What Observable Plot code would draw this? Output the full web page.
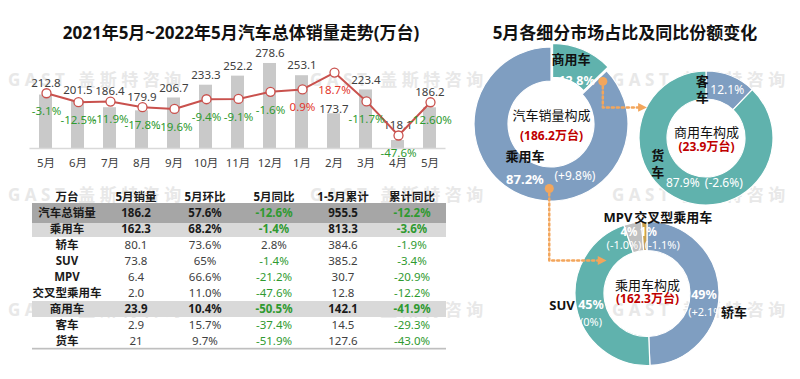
<!DOCTYPE html>
<html>
<head>
<meta charset="utf-8">
<script src="https://cdn.jsdelivr.net/npm/d3@7"></script>
<script src="https://cdn.jsdelivr.net/npm/@observablehq/plot@0.6"></script>
<style>
html,body{margin:0;padding:0;background:#fff;}
#root{position:relative;width:800px;height:379px;overflow:hidden;font-family:"Noto Sans","Noto Sans CJK SC",sans-serif;}
.wm{position:absolute;font-weight:bold;font-size:17px;letter-spacing:4.5px;color:#e8e8e8;white-space:nowrap;line-height:18px;transform:translateY(-50%);}
.title{position:absolute;font-weight:bold;font-size:17px;line-height:17px;color:#111;white-space:nowrap;transform:translate(-50%,-50%);}
</style>
</head>
<body>
<div id="root"></div>
<script>
// ---------------- DATA ----------------
const chartTitle = "2021年5月~2022年5月汽车总体销量走势(万台)";
const donutTitle = "5月各细分市场占比及同比份额变化";
const watermark = "GAST 盖斯特咨询";

const monthLabels = ["5月","6月","7月","8月","9月","10月","11月","12月","1月","2月","3月","4月","5月"];
const sales = [212.8,201.5,186.4,179.9,206.7,233.3,252.2,278.6,253.1,173.7,223.4,118.1,186.2];
const growth = [-3.1,-12.5,-11.9,-17.8,-19.6,-9.4,-9.1,-1.6,0.9,18.7,-11.7,-47.6,-12.6];
const growthLabels = ["-3.1%","-12.5%","-11.9%","-17.8%","-19.6%","-9.4%","-9.1%","-1.6%","0.9%","18.7%","-11.7%","-47.6%","-12.60%"];

const tableHeader = ["万台","5月销量","5月环比","5月同比","1-5月累计","累计同比"];
const rowNames = ["汽车总销量","乘用车","轿车","SUV","MPV","交叉型乘用车","商用车","客车","货车"];
const maySales = ["186.2","162.3","80.1","73.8","6.4","2.0","23.9","2.9","21"];
const mom = ["57.6%","68.2%","73.6%","65%","66.6%","11.0%","10.4%","15.7%","9.7%"];
const yoy = ["-12.6%","-1.4%","2.8%","-1.4%","-21.2%","-47.6%","-50.5%","-37.4%","-51.9%"];
const ytd = ["955.5","813.3","384.6","385.2","30.7","12.8","142.1","14.5","127.6"];
const ytdYoy = ["-12.2%","-3.6%","-1.9%","-3.4%","-20.9%","-12.2%","-41.9%","-29.3%","-43.0%"];
const grandTotalRow = "汽车总销量";
const subtotalRows = ["乘用车","商用车"];

const centerTitles = ["汽车销量构成","商用车构成","乘用车构成"];
const centerTotals = ["(186.2万台)","(23.9万台)","(162.3万台)"];
const mixNames = ["商用车","乘用车"];
const mixValues = [23.9,162.3];
const mixShare = ["12.8%","87.2%"];
const mixChange = ["","(+9.8%)"];
const cvNames = ["客车","货车"];
const cvValues = [2.9,21];
const cvShare = ["12.1%","87.9%"];
const cvChange = ["","(-2.6%)"];
const pvNames = ["轿车","SUV","MPV","交叉型乘用车"];
const pvValues = [80.1,73.8,6.4,2.0];
const pvShare = ["49%","45%","4%","1%"];
const pvChange = ["(+2.1%)","(0%)","(-1.0%)","(-1.1%)"];

// ---------------- STYLE ----------------
const FONT = '"Noto Sans","Noto Sans CJK SC",sans-serif';
const BLUE = "#7f9ec1", TEAL = "#60b2ad", GRAY = "#c0c0c0", GOLD = "#c9a14c";
const ORANGE = "#f3a65c", LINE_RED = "#c9514d", GREEN = "#2f9a30", POS_RED = "#e3362c", DARK_RED = "#c00000";
const TXT = "#404040";

const root = document.getElementById("root");
function place(el, left, top) {
  el.style.position = "absolute";
  el.style.left = left + "px";
  el.style.top = top + "px";
  root.appendChild(el);
}
function div(cls, text, left, top) {
  const d = document.createElement("div");
  d.className = cls; d.textContent = text;
  d.style.left = left + "px"; d.style.top = top + "px";
  root.appendChild(d);
}

// watermarks (behind)
for (const y of [80, 195, 310]) for (const x of [8, 310, 612]) div("wm", watermark, x, y);

// titles
div("title", chartTitle, 241, 32);
div("title", donutTitle, 625, 32);

// ---------------- LEFT CHART ----------------
const W1 = 460, H1 = 180;
const M1 = {marginLeft: 29.5, marginRight: 14.5, marginTop: 52.7, marginBottom: 32};
const salesDomain = [101.4, 300];
const growthDomain = [-61.26, 39.05];
const idx = d3.range(monthLabels.length);
const toSalesUnits = v => salesDomain[0] + (v - growthDomain[0]) * (salesDomain[1] - salesDomain[0]) / (growthDomain[1] - growthDomain[0]);
const lineFarAbove = i => toSalesUnits(growth[i]) - sales[i] > 60;
const labelY = i => Math.max(sales[i], toSalesUnits(growth[i]));
const baseStyle = {background: "transparent", fontFamily: FONT, fontSize: "11.5px", color: TXT, overflow: "visible"};

const barsPlot = Plot.plot({
  width: W1, height: H1, ...M1,
  style: baseStyle,
  x: {type: "band", domain: idx, paddingInner: 0.6, paddingOuter: 0.3, tickFormat: i => monthLabels[i], tickSize: 0, tickPadding: 10, label: null},
  y: {domain: salesDomain, axis: null},
  marks: [
    Plot.barY(idx, {x: i => i, y1: () => salesDomain[0], y2: i => sales[i], fill: "#c9c9c9"}),
    Plot.ruleY([salesDomain[0]], {stroke: "#d9d9d9", strokeWidth: 1.5}),
    Plot.text(idx, {filter: i => !lineFarAbove(i), x: i => i, y: labelY, text: i => sales[i].toFixed(1), dy: -10, fill: TXT, fontSize: 11.5}),
    Plot.text(idx, {filter: i => lineFarAbove(i), x: i => i, y: i => sales[i], text: i => sales[i].toFixed(1), dy: -4, fill: TXT, fontSize: 11.5})
  ]
});
place(barsPlot, 0, 0);

const linePlot = Plot.plot({
  width: W1, height: H1, ...M1,
  style: baseStyle,
  x: {type: "point", domain: idx, padding: 0.5, axis: null},
  y: {domain: growthDomain, axis: null},
  color: {type: "identity"},
  marks: [
    Plot.line(idx, {x: i => i, y: i => growth[i], stroke: LINE_RED, strokeWidth: 2}),
    Plot.dot(idx, {x: i => i, y: i => growth[i], r: 4.5, fill: "white", stroke: LINE_RED, strokeWidth: 1.3}),
    Plot.text(idx, {x: i => i, y: i => growth[i], text: i => growthLabels[i], dy: 18, fontSize: 11.5, fill: i => growth[i] >= 0 ? POS_RED : GREEN})
  ]
});
place(linePlot, 0, 0);

// ---------------- TABLE ----------------
const tableCols = [rowNames, maySales, mom, yoy, ytd, ytdYoy];
const colIdx = d3.range(tableHeader.length);
const rowIdx = d3.range(rowNames.length + 1); // 0 = header
const cells = [];
for (const r of rowIdx) for (const c of colIdx) {
  const text = r === 0 ? tableHeader[c] : tableCols[c][r - 1];
  const name = r === 0 ? null : rowNames[r - 1];
  const isTotal = name === grandTotalRow || subtotalRows.includes(name);
  const bold = r === 0 || c === 0 || isTotal;
  let fill = isTotal || r === 0 || c === 0 ? "#1a1a1a" : TXT;
  if (r > 0 && (c === 3 || c === 5) && text.startsWith("-")) fill = GREEN;
  cells.push({r, c, text, bold, fill, name});
}
const bgLight = cells.filter(d => subtotalRows.includes(d.name));
const bgDark = cells.filter(d => d.name === grandTotalRow);
const lastRow = cells.filter(d => d.r === rowIdx.length - 1);

const tablePlot = Plot.plot({
  width: 460, height: 180, marginLeft: 30, marginRight: 12, marginTop: 9, marginBottom: 11,
  style: {...baseStyle, fontSize: "11.5px"},
  x: {type: "band", domain: colIdx, padding: 0, axis: null},
  y: {type: "band", domain: rowIdx, padding: 0, axis: null},
  color: {type: "identity"},
  marks: [
    Plot.cell(bgLight, {x: "c", y: "r", fill: "#d9d9d9"}),
    Plot.cell(bgDark, {x: "c", y: "r", fill: "#a6a6a6", insetTop: -2, insetBottom: -2}),
    Plot.cell(lastRow, {x: "c", y: "r", fill: "#bfbfbf", insetTop: 14.8, insetBottom: -0.5}),
    Plot.text(cells.filter(d => !d.bold), {x: "c", y: "r", text: "text", fill: "fill", fontSize: 11.5}),
    Plot.text(cells.filter(d => d.bold), {x: "c", y: "r", text: "text", fill: "fill", fontSize: 11.5, fontWeight: "bold"})
  ]
});
place(tablePlot, 0, 180);

// ---------------- DONUTS ----------------
const donuts = [
  {cx: 551, cy: 124, r0: 43, r1: 77, values: mixValues, colors: [TEAL, BLUE], explode: [4, 0]},
  {cx: 706, cy: 138, r0: 39, r1: 67, values: cvValues, colors: [BLUE, TEAL], explode: [0, 0]},
  {cx: 647, cy: 293.5, r0: 43, r1: 72, values: pvValues, colors: [BLUE, TEAL, GRAY, GOLD], explode: [0, 0, 0, 0]}
];
donuts.forEach(d => {
  d.arcs = d3.pie().sort(null).value(v => v)(d.values);
  const gen = d3.arc().innerRadius(d.r0).outerRadius(d.r1);
  d.centroids = d.arcs.map(a => { const [x, y] = gen.centroid(a); return [d.cx + x, d.cy + y]; });
});
const polar = (d, deg, r) => [d.cx + r * Math.sin(deg * Math.PI / 180), d.cy - r * Math.cos(deg * Math.PI / 180)];

const labels = [];
function lab(p, dx, dy, text, fill, size, bold) { labels.push({x: p[0] + dx, y: p[1] + dy, text, fill, size, bold}); }
const BLACK = "#111", WHITE = "#ffffff";
// donut 1
{
  const [c0, c1] = donuts[0].centroids, d = donuts[0];
  lab(c0, -4, -9, mixNames[0], BLACK, 13, true);
  lab(c0, 1.5, 12, mixShare[0], WHITE, 12.5, true);
  lab(c1, -3, -23, mixNames[1], BLACK, 13, true);
  lab(c1, -3, 0, mixShare[1], WHITE, 13, true);
  lab(c1, 47, -4, mixChange[1], WHITE, 12, false);
  lab([d.cx, d.cy], 0, -9, centerTitles[0], BLACK, 13, false);
  lab([d.cx, d.cy], 0, 12, centerTotals[0], DARK_RED, 12, true);
}
// donut 2
{
  const [c0, c1] = donuts[1].centroids, d = donuts[1];
  lab(c0, 1, 1, cvShare[0], WHITE, 12, false);
  lab(c0, -24, -7, cvNames[0][0], BLACK, 13, true);
  lab(c0, -24, 9, cvNames[0][1], BLACK, 13, true);
  lab(c1, -4, -5, cvShare[1], WHITE, 12, false);
  lab(c1, 37, -5, cvChange[1], WHITE, 12, false);
  lab(c1, -29, -32, cvNames[1][0], BLACK, 13, true);
  lab(c1, -29, -15, cvNames[1][1], BLACK, 13, true);
  lab([d.cx, d.cy], 0, -6, centerTitles[1], BLACK, 13, false);
  lab([d.cx, d.cy], 0, 9, centerTotals[1], DARK_RED, 12, true);
}
// donut 3
{
  const [c0, c1, c2, c3] = donuts[2].centroids, d = donuts[2];
  lab(c0, -1, 2, pvShare[0], WHITE, 12.5, true);
  lab(c0, 2, 20, pvChange[0], WHITE, 11, false);
  lab(c0, 29, 20, pvNames[0], BLACK, 13, true);
  lab(c1, 0, 1, pvShare[1], WHITE, 12.5, true);
  lab(c1, 0, 18, pvChange[1], WHITE, 11, false);
  lab(c1, -29, 1, pvNames[1], BLACK, 13, true);
  lab(c2, -7, -5, pvShare[2], WHITE, 11.5, true);
  lab(c2, -12, 8, pvChange[2], WHITE, 11, false);
  lab(c2, -18, -20, pvNames[2], BLACK, 13, true);
  lab(c3, 3, -4, pvShare[3], WHITE, 11.5, true);
  lab(c3, 17, 9, pvChange[3], WHITE, 11, false);
  lab(c3, 28, -19, pvNames[3], BLACK, 13, true);
  lab([d.cx, d.cy], 0, -8.5, centerTitles[2], BLACK, 13, false);
  lab([d.cx, d.cy], 0, 5.5, centerTotals[2], DARK_RED, 12, true);
}

// connectors
const s1 = polar(donuts[0], 50, 67);
const y1 = s1[1] + 26;
const e1 = donuts[1].cx - Math.sqrt(donuts[1].r1 ** 2 - (y1 - donuts[1].cy) ** 2) - 1;
const s2 = polar(donuts[0], 182, 64);
const y2 = donuts[2].cy - 33.5;
const e2 = donuts[2].cx - Math.sqrt(donuts[2].r1 ** 2 - (y2 - donuts[2].cy) ** 2) + 22;
const conn1 = [{x: s1[0], y: s1[1]}, {x: s1[0], y: y1}, {x: e1 - 6, y: y1}];
const conn2 = [{x: s2[0], y: s2[1]}, {x: s2[0], y: y2}, {x: e2 - 6, y: y2}];
const arrowSym = {draw(ctx, size) { const s = Math.sqrt(size); ctx.moveTo(s * 0.6, 0); ctx.lineTo(-s * 0.5, -s * 0.55); ctx.lineTo(-s * 0.5, s * 0.55); ctx.closePath(); }};

function donutMark(d) {
  return (index, scales) => {
    const sx = scales && scales.x ? scales.x : (v => v - 460);
    const sy = scales && scales.y ? scales.y : (v => v);
    const g = d3.create("svg:g");
    const gen = d3.arc().innerRadius(d.r0).outerRadius(d.r1);
    d.arcs.forEach((a, i) => {
      const mid = (a.startAngle + a.endAngle) / 2;
      const ox = d.explode[i] * Math.sin(mid), oy = -d.explode[i] * Math.cos(mid);
      g.append("path")
        .attr("d", gen(a))
        .attr("transform", `translate(${sx(d.cx) + ox},${sy(d.cy) + oy})`)
        .attr("fill", d.colors[i])
        .attr("stroke", "white")
        .attr("stroke-width", 1.2);
    });
    return g.node();
  };
}

const donutPlot = Plot.plot({
  width: 340, height: 379, margin: 0,
  style: {...baseStyle, fontSize: "12px"},
  x: {domain: [460, 800], range: [0, 340], axis: null},
  y: {domain: [0, 379], range: [0, 379], axis: null},
  color: {type: "identity"},
  marks: [
    ...donuts.map(donutMark),
    Plot.line(conn1, {x: "x", y: "y", stroke: ORANGE, strokeWidth: 2.5, strokeDasharray: "2,3"}),
    Plot.line(conn2, {x: "x", y: "y", stroke: ORANGE, strokeWidth: 2.5, strokeDasharray: "2,3"}),
    Plot.dot([conn1[0], conn2[0]], {x: "x", y: "y", r: 4.5, fill: ORANGE}),
    Plot.dot([{x: e1 - 4, y: y1}, {x: e2 - 4, y: y2}], {x: "x", y: "y", r: 4.5, fill: ORANGE, symbol: arrowSym}),
    Plot.text(labels.filter(l => !l.bold), {x: "x", y: "y", text: "text", fill: "fill", fontSize: "size"}),
    Plot.text(labels.filter(l => l.bold), {x: "x", y: "y", text: "text", fill: "fill", fontSize: "size", fontWeight: "bold"})
  ]
});
place(donutPlot, 460, 0);
</script>
</body>
</html>
